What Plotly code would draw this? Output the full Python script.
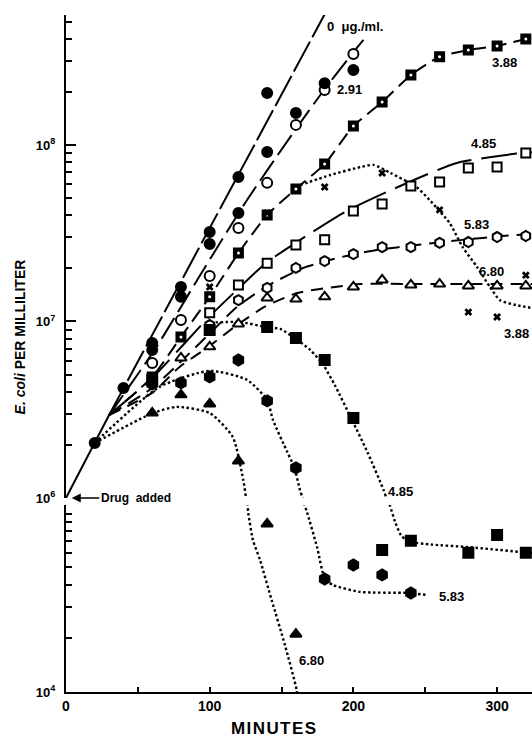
import plotly.graph_objects as go

# ---------------------------------------------------------------------------
# Viable E. coli per ml against minutes after drug addition.
# Upper panel: 1e6 .. ~5e8, lower panel: 1e4 .. ~1e5 (broken axis).
# ---------------------------------------------------------------------------

# common stem before the cultures separate
STEM_T = [0, 30]
STEM_N = [1.0e6, 2.95e6]

# 0 ug/ml control
CTRL_T = [20, 40, 60, 80, 100, 120, 140]
CTRL_N = [2.05e6, 4.2e6, 7.55e6, 1.57e7, 3.21e7, 6.59e7, 1.97e8]
CTRL_LINE_T = [30, 180]
CTRL_LINE_N = [2.95e6, 5.5e8]

# 2.91 ug/ml (open and filled replicates)
C291_T = [60, 80, 100, 120, 140, 160, 180, 200]
C291_OPEN_N = [5.82e6, 1.02e7, 1.81e7, 3.39e7, 6.1e7, 1.30e8, 2.05e8, 3.28e8]
C291_FILLED_N = [6.9e6, 1.38e7, 2.75e7, 4.12e7, 9.12e7, 1.52e8, 2.24e8, 2.66e8]
C291_LINE_T = [30, 63, 93, 126, 159, 178, 199, 207]
C291_LINE_N = [2.95e6, 7.18e6, 1.81e7, 4.88e7, 1.2e8, 1.97e8, 3.28e8, 3.94e8]

# 3.88 ug/ml, first series
C388_T = [60, 80, 100, 120, 140, 160, 180, 200, 220, 240, 260, 280, 300, 320]
C388_N = [4.85e6, 8.17e6, 1.38e7, 2.44e7, 4.01e7, 5.64e7, 7.8e7, 1.28e8,
          1.75e8, 2.49e8, 3.16e8, 3.45e8, 3.64e8, 3.99e8]
C388_LINE_T = [30, 60, 80, 100, 120, 140, 160, 180, 200, 220, 240, 260, 280, 300, 320, 325]
C388_LINE_N = [2.95e6, 4.85e6, 8.17e6, 1.38e7, 2.44e7, 4.01e7, 5.64e7, 7.8e7, 1.28e8,
               1.75e8, 2.49e8, 3.16e8, 3.45e8, 3.64e8, 3.99e8, 4.05e8]

# 4.85 ug/ml, first series
C485_T = [100, 120, 140, 160, 180, 200, 220, 240, 260, 280, 300, 320]
C485_N = [1.12e7, 1.61e7, 2.14e7, 2.71e7, 2.9e7, 4.23e7, 4.63e7, 5.86e7,
          6.17e7, 7.41e7, 7.5e7, 9.02e7]
C485_LINE_T = [30, 60, 99, 119, 139, 163, 194, 231, 272, 311, 325]
C485_LINE_N = [2.95e6, 4.79e6, 1.05e7, 1.51e7, 2.14e7, 2.9e7, 4.17e7, 5.78e7,
               7.91e7, 8.89e7, 9.12e7]

# 5.83 ug/ml, first series
C583_T = [100, 120, 140, 160, 180, 200, 220, 240, 260, 280, 300, 320]
C583_N = [9.55e6, 1.32e7, 1.55e7, 2.01e7, 2.2e7, 2.41e7, 2.64e7, 2.64e7,
          2.79e7, 2.82e7, 3.01e7, 3.05e7]
C583_LINE_T = [30, 60, 99, 119, 139, 165, 192, 216, 244, 276, 304, 325]
C583_LINE_N = [2.95e6, 4.2e6, 8.39e6, 1.21e7, 1.57e7, 2.01e7, 2.32e7, 2.54e7,
               2.71e7, 2.9e7, 3.05e7, 3.13e7]

# 6.80 ug/ml, first series
C680_T = [80, 100, 120, 140, 160, 180, 200, 220, 240, 260, 280, 300, 320]
C680_N = [6.21e6, 7.18e6, 9.68e6, 1.36e7, 1.34e7, 1.38e7, 1.57e7, 1.72e7,
          1.61e7, 1.63e7, 1.59e7, 1.59e7, 1.59e7]
C680_LINE_T = [30, 60, 79, 99, 119, 139, 161, 182, 205, 246, 325]
C680_LINE_N = [2.95e6, 3.94e6, 5.52e6, 7.18e6, 9.55e6, 1.22e7, 1.45e7, 1.55e7,
               1.63e7, 1.63e7, 1.63e7]

# 3.88 ug/ml, second series (x)
B388_T = [100, 140, 180, 220, 260, 280, 300, 320]
B388_N = [1.57e7, 4.12e7, 5.78e7, 6.93e7, 4.29e7, 1.13e7, 1.06e7, 1.83e7]
B388_CURVE_T = [163, 184, 205, 214, 226, 238, 244, 253, 267, 276, 286, 295, 302, 313, 325]
B388_CURVE_N = [5.93e7, 6.76e7, 7.5e7, 7.71e7, 6.93e7, 6.17e7, 5.78e7, 4.88e7,
                3.61e7, 2.64e7, 2.04e7, 1.57e7, 1.32e7, 1.24e7, 1.19e7]

# 4.85 ug/ml, second series (filled squares)
B485_HI_T = [60, 100, 140, 160, 180, 200]
B485_HI_N = [4.67e6, 8.95e6, 9.3e6, 8.07e6, 6.05e6, 2.84e6]
B485_LO_T = [220, 240, 280, 300, 320]
B485_LO_N = [6.25e4, 7.05e4, 6.04e4, 7.59e4, 6.04e4]
B485_CURVE_HI_T = [97, 121, 139, 149, 159, 170, 179, 187, 199, 210, 221, 223, 226]
B485_CURVE_HI_N = [9.82e6, 9.93e6, 9.31e6, 9.08e6, 8.07e6, 6.9e6, 5.68e6, 4.37e6,
                   2.77e6, 1.8e6, 1.11e6, 1.0e6, 9.1e5]
B485_CURVE_LO_T = [223, 225.3, 229, 233, 238, 255, 279, 325]
B485_CURVE_LO_N = [1.27e5, 1.12e5, 9.0e4, 7.6e4, 7.0e4, 6.7e4, 6.5e4, 6.0e4]

# 5.83 ug/ml, second series (filled hexagons)
B583_HI_T = [60, 80, 100, 120, 140, 160]
B583_HI_N = [4.43e6, 4.49e6, 4.85e6, 6.05e6, 3.55e6, 1.48e6]
B583_LO_T = [180, 200, 220, 240]
B583_LO_N = [4.3e4, 5.15e4, 4.53e4, 3.59e4]
B583_CURVE_HI_T = [20, 65, 100, 126, 140, 144, 154, 159, 162.8, 164.6, 165.5]
B583_CURVE_HI_N = [2.05e6, 4.26e6, 5.25e6, 4.67e6, 3.59e6, 2.77e6, 1.82e6, 1.48e6,
                   1.11e6, 1.0e6, 9.1e5]
B583_CURVE_LO_T = [165, 166, 167.7, 174.7, 180.2, 185.8, 204.6, 238, 251]
B583_CURVE_LO_N = [1.22e5, 1.12e5, 1.02e5, 6.5e4, 4.3e4, 3.98e4, 3.64e4, 3.59e4, 3.5e4]

# 6.80 ug/ml, second series (filled triangles)
B680_HI_T = [60, 80, 100, 120]
B680_HI_N = [3.03e6, 3.84e6, 3.41e6, 1.62e6]
B680_LO_T = [140, 160]
B680_LO_N = [8.75e4, 2.11e4]
B680_CURVE_HI_T = [20, 60.5, 77, 100, 116, 123.4, 125.3, 126]
B680_CURVE_HI_N = [2.05e6, 3.03e6, 3.28e6, 3.03e6, 2.22e6, 1.26e6, 1.0e6, 9.1e5]
B680_CURVE_LO_T = [125.6, 126.3, 126.9, 130.1, 135, 143.1, 152.4, 160.5, 161.1]
B680_CURVE_LO_N = [1.22e5, 1.12e5, 1.0e5, 7.1e4, 5.5e4, 3.28e4, 1.83e4, 1.03e4, 9.3e3]

# axis ticks
X_MAJOR = [0, 100, 200, 300]
X_MINOR = [50, 150, 250]
UP_MAJOR = [1e6, 1e7, 1e8]
UP_LABELS = ["10<sup>6</sup>", "10<sup>7</sup>", "10<sup>8</sup>"]
UP_MINOR = [k * 1e6 for k in range(2, 10)] + [k * 1e7 for k in range(2, 10)] + [2e8, 3e8, 4e8, 5e8]
LO_MAJOR = [1e4]
LO_LABELS = ["10<sup>4</sup>"]
LO_MINOR = [k * 1e4 for k in range(2, 10)] + [1e5]

INK = "black"
fig = go.Figure()


def line(t, n, axis, dash, width=2.0):
    fig.add_trace(go.Scatter(
        x=t, y=n, yaxis=axis, mode="lines", hoverinfo="skip",
        line=dict(color=INK, width=width, dash=dash, shape="spline", smoothing=0.6)))


def marks(t, n, axis, symbol, size, filled=True, lw=2.0):
    fig.add_trace(go.Scatter(
        x=t, y=n, yaxis=axis, mode="markers",
        marker=dict(symbol=symbol, size=size,
                    color=INK if filled else "white",
                    line=dict(color=INK, width=lw))))


# lines of the first series (dashed) and the stem
line(STEM_T, STEM_N, "y", "solid")
line(CTRL_LINE_T, CTRL_LINE_N, "y", "34px,5px")
line(C291_LINE_T, C291_LINE_N, "y", "24px,7px")
line(C388_LINE_T, C388_LINE_N, "y", "14px,7px")
line(C485_LINE_T, C485_LINE_N, "y", "36px,10px")
line(C583_LINE_T, C583_LINE_N, "y", "14px,8px")
line(C680_LINE_T, C680_LINE_N, "y", "12px,8px")

# dotted curves of the second series, split across the axis break
DOT = "2.5px,2.5px"
DW = 2.4
line(B388_CURVE_T, B388_CURVE_N, "y", DOT, DW)
line(B485_CURVE_HI_T, B485_CURVE_HI_N, "y", DOT, DW)
line(B485_CURVE_LO_T, B485_CURVE_LO_N, "y2", DOT, DW)
line(B583_CURVE_HI_T, B583_CURVE_HI_N, "y", DOT, DW)
line(B583_CURVE_LO_T, B583_CURVE_LO_N, "y2", DOT, DW)
line(B680_CURVE_HI_T, B680_CURVE_HI_N, "y", DOT, DW)
line(B680_CURVE_LO_T, B680_CURVE_LO_N, "y2", DOT, DW)

# markers, first series
marks(C680_T, C680_N, "y", "triangle-up", 10, filled=False)
marks(C583_T, C583_N, "y", "hexagon", 10, filled=False)
marks(C485_T, C485_N, "y", "square", 9, filled=False)
marks(C388_T, C388_N, "y", "square", 9)
fig.add_trace(go.Scatter(x=C388_T, y=C388_N, yaxis="y", mode="markers",
                         marker=dict(symbol="circle", size=3, color="white")))
marks(C291_T, C291_OPEN_N, "y", "circle", 10, filled=False)
marks(C291_T, C291_FILLED_N, "y", "circle", 10)
marks(CTRL_T, CTRL_N, "y", "circle", 10)

# markers, second series
marks(B388_T, B388_N, "y", "x", 7, lw=0)
marks(B485_HI_T, B485_HI_N, "y", "square", 10)
marks(B485_LO_T, B485_LO_N, "y2", "square", 10)
marks(B583_HI_T, B583_HI_N, "y", "hexagon", 11)
marks(B583_LO_T, B583_LO_N, "y2", "hexagon", 11)
marks(B680_HI_T, B680_HI_N, "y", "triangle-up", 10)
marks(B680_LO_T, B680_LO_N, "y2", "triangle-up", 10)

LABEL_FONT = dict(family="Arial", size=13, color=INK, weight="bold")


def label(text, t, logn, axis="y", anchor="center"):
    fig.add_annotation(text=text, x=t, y=logn, xref="x", yref=axis,
                       showarrow=False, xanchor=anchor, yanchor="middle", font=LABEL_FONT)


label("0&nbsp;&nbsp;\u03bcg./ml.", 180.2, 8.669, anchor="left")
label("2.91", 197.3, 8.312)
label("3.88", 305.5, 8.465)
label("4.85", 290.2, 8.010)
label("5.83", 286.0, 7.547)
label("6.80", 295.8, 7.286)
label("3.88", 313.5, 6.933)
label("4.85", 233.1, 6.036)
label("5.83", 268.0, 4.534, axis="y2")
label("6.80", 170.5, 4.179, axis="y2")

fig.add_annotation(text="Drug&nbsp;&nbsp;added", x=4.0, y=6.0, xref="x", yref="y",
                   showarrow=True, ax=64, ay=0, arrowhead=2, arrowsize=1.2,
                   arrowwidth=1.5, arrowcolor=INK,
                   font=dict(family="Arial", size=12, color=INK, weight="bold"))

fig.add_annotation(text="M\u200aI\u200aN\u200aU\u200aT\u200aE\u200aS", x=144.7, y=-0.054,
                   xref="x", yref="paper", xanchor="center", yanchor="middle",
                   showarrow=False,
                   font=dict(family="Arial", size=17, color=INK, weight="bold"))
fig.add_annotation(text="<i>E. coli</i> PER MILLILITER", x=-0.099, y=0.525,
                   xref="paper", yref="paper", xanchor="center", yanchor="middle",
                   textangle=-90, showarrow=False,
                   font=dict(family="Arial", size=14, color=INK, weight="bold"))

axis_common = dict(showline=True, linecolor=INK, linewidth=2, showgrid=False,
                   zeroline=False, ticks="inside", tickcolor=INK, tickwidth=1.5)
tickfont = dict(family="Arial", size=13, color=INK, weight="bold")

fig.update_layout(
    width=532, height=737,
    margin=dict(l=66, r=0, t=15, b=45),
    plot_bgcolor="white", paper_bgcolor="white",
    showlegend=False,
    xaxis=dict(range=[0, 324.3], anchor="y2", tickvals=X_MAJOR, ticklen=5,
               tickfont=dict(family="Arial", size=14, color=INK, weight="bold"),
               minor=dict(tickvals=X_MINOR, ticks="inside", ticklen=5,
                          tickcolor=INK, tickwidth=1.5),
               **axis_common),
    yaxis=dict(domain=[0.2866, 1.0], type="log", range=[6, 8.7365], anchor="x",
               tickvals=UP_MAJOR, ticktext=UP_LABELS, ticklen=10, tickfont=tickfont,
               ticklabelstandoff=6,
               minor=dict(tickvals=UP_MINOR, ticks="inside", ticklen=6,
                          tickcolor=INK, tickwidth=1.5),
               **axis_common),
    yaxis2=dict(domain=[0.0, 0.2762], type="log", range=[4, 5.0482], anchor="x",
                tickvals=LO_MAJOR, ticktext=LO_LABELS, ticklen=10, tickfont=tickfont,
                ticklabelstandoff=6,
                minor=dict(tickvals=LO_MINOR, ticks="inside", ticklen=6,
                           tickcolor=INK, tickwidth=1.5),
                **axis_common),
)

fig.write_html("out.html")
